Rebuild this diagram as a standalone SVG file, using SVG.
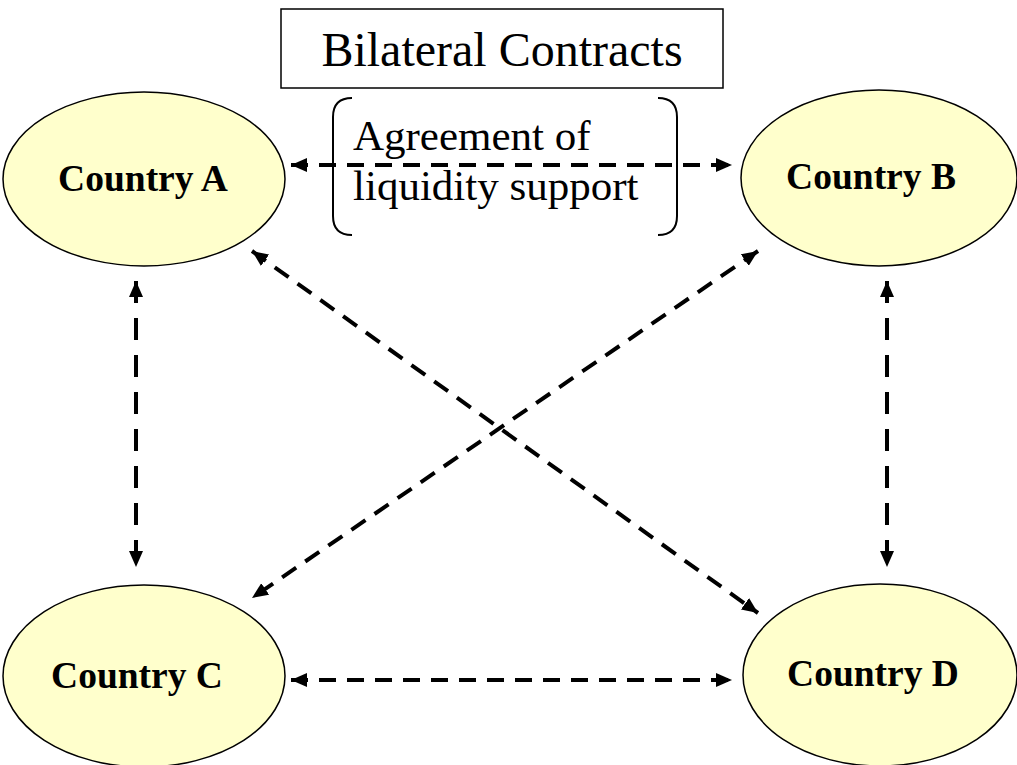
<svg xmlns="http://www.w3.org/2000/svg" width="1017" height="765" viewBox="0 0 1017 765">
<style>
.node{fill:#FFFFCC;stroke:#000;stroke-width:1.5}
.lbl{font-family:"Times New Roman","Liberation Serif",Tinos,serif;font-weight:bold;font-size:37.5px;text-anchor:middle;fill:#000}
.txt{font-family:"Times New Roman","Liberation Serif",Tinos,serif;font-size:43px;fill:#000}
.ttl{font-family:"Times New Roman","Liberation Serif",Tinos,serif;font-size:48px;text-anchor:middle;fill:#000}
.conn{fill:none;stroke:#000;stroke-width:4;stroke-dasharray:17 11}
.vconn{stroke-dasharray:22 15}
</style>
<defs>
<marker id="ah" viewBox="0 0 16 14" refX="16" refY="7" markerWidth="16" markerHeight="14" markerUnits="userSpaceOnUse" orient="auto-start-reverse">
<path d="M0,0 L16,7 L0,14 Z" fill="#000"/>
</marker>
</defs>
<rect x="0" y="0" width="1017" height="765" fill="#fff"/>
<g id="title">
<rect x="281" y="9" width="442" height="79" fill="#fff" stroke="#000" stroke-width="1.5"/>
<text class="ttl" x="502" y="66">Bilateral Contracts</text>
</g>
<g id="nodeA"><ellipse class="node" cx="144" cy="179" rx="141" ry="87"/><text class="lbl" x="143" y="191">Country A</text></g>
<g id="nodeB"><ellipse class="node" cx="879" cy="178" rx="138" ry="88"/><text class="lbl" x="871" y="189">Country B</text></g>
<g id="nodeC"><ellipse class="node" cx="144" cy="676" rx="141" ry="91"/><text class="lbl" x="137" y="688">Country C</text></g>
<g id="nodeD"><ellipse class="node" cx="880" cy="675" rx="137" ry="91"/><text class="lbl" x="873" y="686">Country D</text></g>
<g id="connectors">
<line class="conn" x1="291" y1="165" x2="732" y2="165" marker-start="url(#ah)" marker-end="url(#ah)"/>
<line class="conn" x1="291" y1="680" x2="732" y2="680" marker-start="url(#ah)" marker-end="url(#ah)"/>
<line class="conn vconn" x1="136" y1="281" x2="136" y2="567" marker-start="url(#ah)" marker-end="url(#ah)"/>
<line class="conn vconn" x1="887" y1="281" x2="887" y2="567" marker-start="url(#ah)" marker-end="url(#ah)"/>
<line class="conn" x1="252" y1="251" x2="758" y2="613" marker-start="url(#ah)" marker-end="url(#ah)"/>
<line class="conn" x1="758" y1="251" x2="252" y2="598" marker-start="url(#ah)" marker-end="url(#ah)"/>
</g>
<g id="label">
<path d="M352,98 Q333,98 333,117 L333,216 Q333,235 352,235" fill="none" stroke="#000" stroke-width="2"/>
<path d="M658,98 Q677,98 677,117 L677,216 Q677,235 658,235" fill="none" stroke="#000" stroke-width="2"/>
<text class="txt" x="353" y="150">Agreement of</text>
<text class="txt" x="353" y="200">liquidity support</text>
</g>
</svg>
